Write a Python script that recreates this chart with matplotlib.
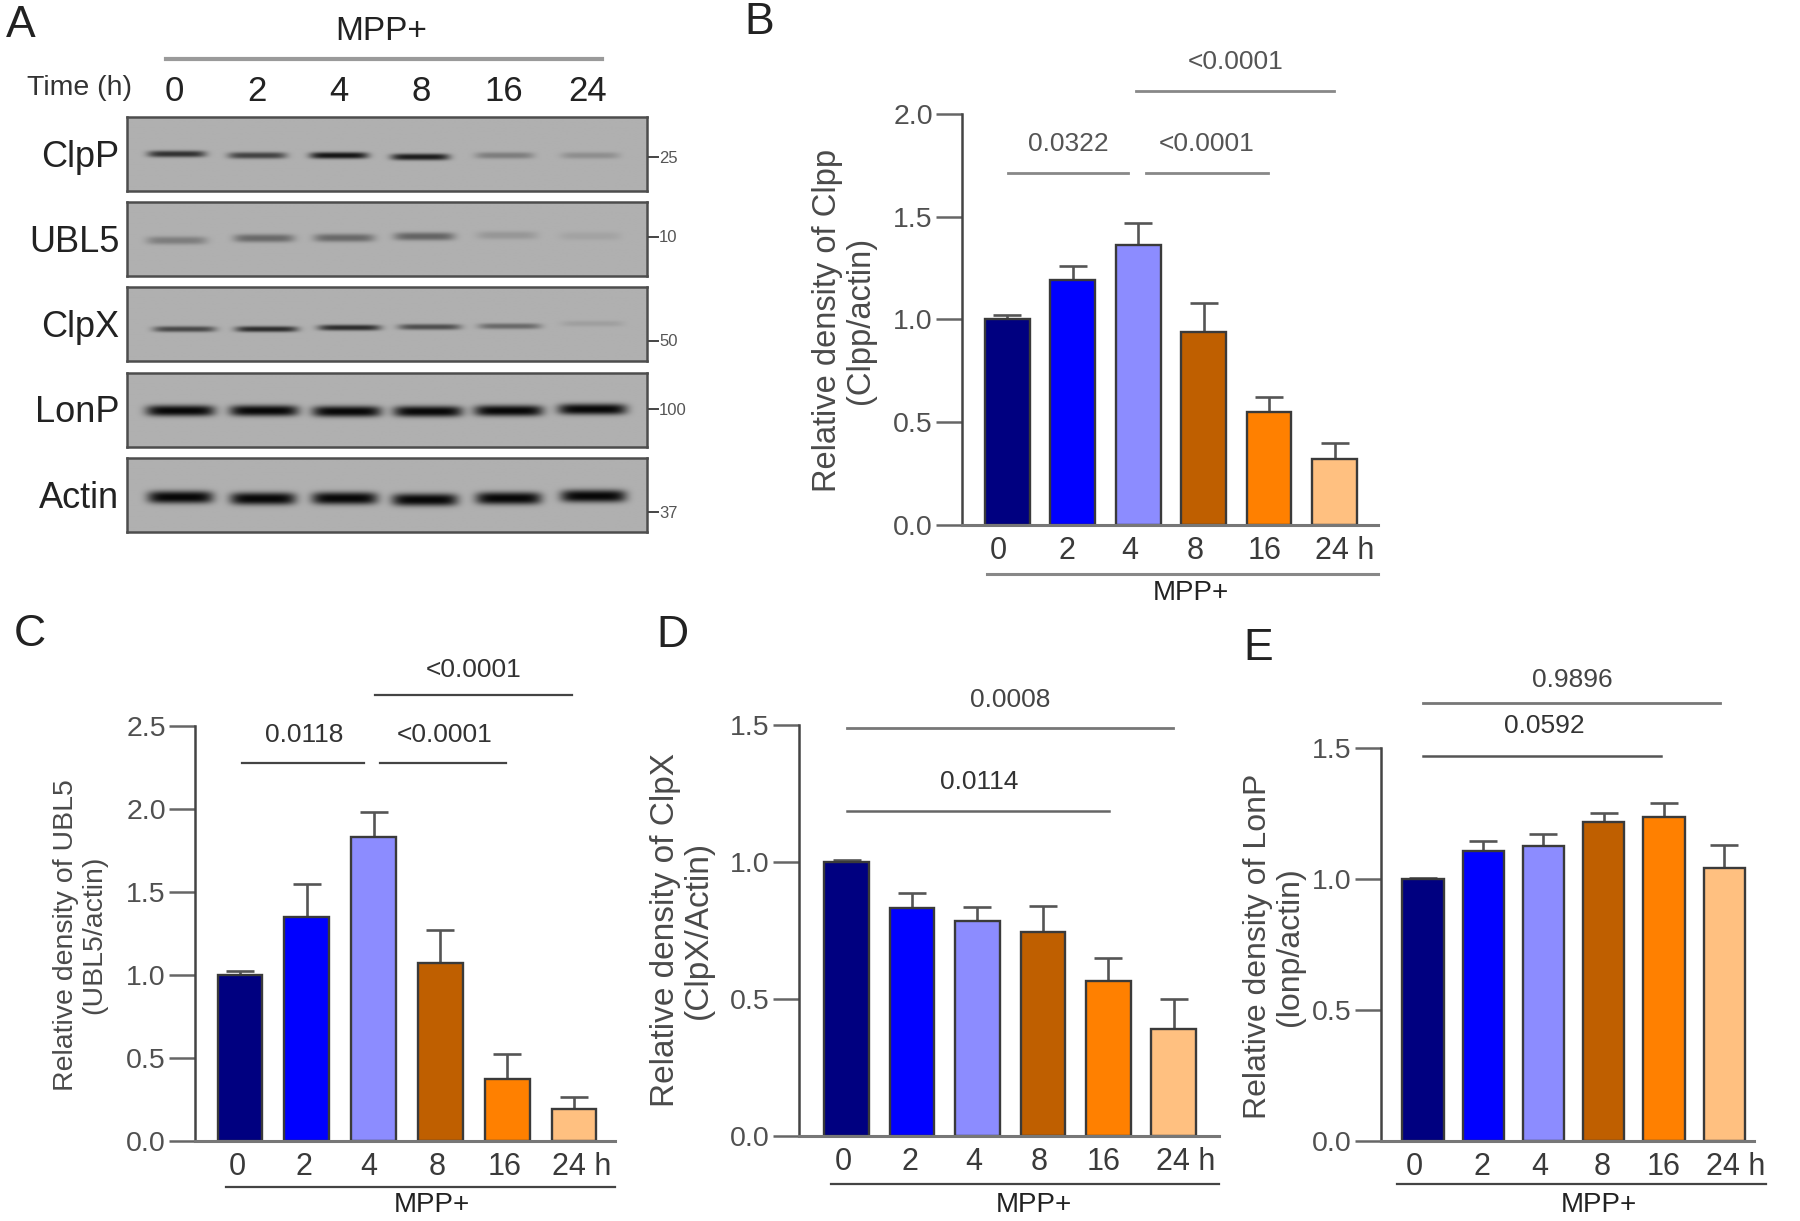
import numpy as np
import matplotlib
matplotlib.use('Agg')
import matplotlib.pyplot as plt
from matplotlib.lines import Line2D

plt.rcParams['font.family'] = ['Liberation Sans', 'DejaVu Sans']

# datos
times = ['0', '2', '4', '8', '16', '24 h']
colores = ['#000080', '#0000ff', '#8c8cff', '#bf5f00', '#ff8000', '#ffc080']

clpp = [1.00, 1.19, 1.36, 0.94, 0.55, 0.32]
clpp_err = [0.02, 0.07, 0.11, 0.14, 0.07, 0.08]
ubl5 = [1.00, 1.35, 1.83, 1.07, 0.37, 0.19]
ubl5_err = [0.02, 0.20, 0.15, 0.20, 0.15, 0.07]
clpx = [1.00, 0.83, 0.785, 0.745, 0.565, 0.39]
clpx_err = [0.005, 0.055, 0.05, 0.095, 0.085, 0.11]
lonp = [1.00, 1.105, 1.125, 1.215, 1.235, 1.04]
lonp_err = [0.002, 0.04, 0.045, 0.035, 0.055, 0.09]

# intensidad de cada banda del western blot
blot_names = ['ClpP', 'UBL5', 'ClpX', 'LonP', 'Actin']
blot_marks = ['25', '10', '50', '100', '37']
blot_int = [[0.75, 0.65, 0.92, 0.88, 0.30, 0.20],
            [0.30, 0.42, 0.42, 0.45, 0.15, 0.08],
            [0.62, 0.78, 0.78, 0.58, 0.42, 0.10],
            [1.00, 1.00, 1.00, 1.00, 1.00, 1.00],
            [1.00, 1.00, 1.00, 1.00, 1.00, 1.00]]

W, H = 1568.0, 1063.0  # todo se ubica en pixeles de esta escala
fig = plt.figure(figsize=(18, 12.21), dpi=100)


def fx(x):
    return x / W


def fy(y):
    return 1 - y / H


def texto(x, y, s, size=17, color='#333333', **kw):
    kw.setdefault('ha', 'center')
    kw.setdefault('va', 'center')
    fig.text(fx(x), fy(y), s, fontsize=size, color=color, **kw)


def linea(x0, x1, y, color='#666666', lw=1.6):
    fig.add_artist(Line2D([fx(x0), fx(x1)], [fy(y), fy(y)], color=color, lw=lw))


def panel(vals, errs, ylim, yticks, left, right, y0, ytop, c0, dx, barw, labx, ylab, ylab_x, ylab_y, ysize=23):
    ax = fig.add_axes([fx(left), fy(y0), fx(right - left), (y0 - ytop) / H])
    pos = np.arange(len(vals))
    ax.bar(pos, vals, width=barw / dx, color=colores, edgecolor='#3a3a3a', linewidth=1.7, zorder=2)
    ax.errorbar(pos, vals, yerr=[np.zeros(len(vals)), errs], fmt='none', ecolor='#555555',
                elinewidth=1.9, capsize=10, capthick=1.9, zorder=1)
    ax.set_xlim((left - c0) / dx, (right - c0) / dx)
    ax.set_ylim(*ylim)
    ax.set_yticks(yticks)
    ax.set_yticklabels(['%.1f' % t for t in yticks], fontsize=20.5, color='#505050')
    ax.set_xticks([(p - c0) / dx for p in labx])
    ax.set_xticklabels(times, fontsize=22, color='#3a3a3a')
    ax.tick_params(axis='x', length=0, pad=8)
    ax.tick_params(axis='y', length=19, width=1.8, color='#666666', pad=2)
    ax.spines['top'].set_visible(False)
    ax.spines['right'].set_visible(False)
    ax.spines['left'].set_linewidth(1.8)
    ax.spines['left'].set_color('#444444')
    ax.spines['bottom'].set_linewidth(2.2)
    ax.spines['bottom'].set_color('#777777')
    ax.patch.set_alpha(0)
    texto(ylab_x, ylab_y, ylab, size=ysize, color='#4a4a4a', rotation=90, linespacing=1.1)
    return ax


# Panel A
texto(18, 22, 'A', size=32, color='#222222')
texto(332, 27, 'MPP+', size=24, color='#222222')
linea(145, 524, 51, color='#9a9a9a', lw=3)
texto(69, 77, 'Time (h)', size=20.5)
for s, x in zip(['0', '2', '4', '8', '16', '24'], [152, 224, 295, 367, 439, 512]):
    texto(x, 80, s, size=25, color='#222222')

blot_top = [102, 176, 250, 325, 399]
blot_alto = 64
lane_x = [[0.095, 0.25, 0.407, 0.563, 0.725, 0.89],
          [0.095, 0.263, 0.417, 0.571, 0.73, 0.89],
          [0.11, 0.268, 0.427, 0.581, 0.735, 0.894],
          [0.102, 0.263, 0.422, 0.578, 0.733, 0.894],
          [0.102, 0.261, 0.418, 0.572, 0.733, 0.896]]
lane_y = [[0.50, 0.52, 0.52, 0.54, 0.52, 0.52],
          [0.52, 0.49, 0.485, 0.465, 0.45, 0.46],
          [0.57, 0.57, 0.55, 0.54, 0.53, 0.495],
          [0.51, 0.51, 0.52, 0.52, 0.51, 0.49],
          [0.53, 0.55, 0.545, 0.565, 0.545, 0.515]]
band_sig = [0.045, 0.055, 0.04, 0.075, 0.085]
band_ancho = [0.056, 0.058, 0.06, 0.066, 0.063]
nombre_y = [137, 211, 285, 359, 434]
marca_y = [138, 207, 297, 357, 447]

yy, xx = np.mgrid[0:1:160j, 0:1:520j]
for i, nombre in enumerate(blot_names):
    ax = fig.add_axes([fx(110.5), fy(blot_top[i] + blot_alto), fx(453), blot_alto / H])
    img = np.full(xx.shape, 0.69)
    for j in range(6):
        # banda oscura y difusa en cada carril
        perfil_x = np.exp(-(np.abs(xx - lane_x[i][j]) / band_ancho[i]) ** 6)
        perfil_y = np.exp(-(np.abs(yy - lane_y[i][j]) / band_sig[i]) ** 2.5)
        img -= 0.66 * blot_int[i][j] * perfil_x * perfil_y
    ax.imshow(img, cmap='gray', vmin=0, vmax=1, aspect='auto', extent=[0, 1, 1, 0])
    ax.set_xticks([])
    ax.set_yticks([])
    for sp in ax.spines.values():
        sp.set_linewidth(1.8)
        sp.set_color('#4d4d4d')
    texto(104, nombre_y[i], nombre, size=26, color='#222222', ha='right')
    linea(565, 573, marca_y[i] - 1 if i != 2 else marca_y[i], color='#444444', lw=1.4)
    texto(574, marca_y[i], blot_marks[i], size=12, color='#555555', ha='left')

# Panel B
texto(661, 20, 'B', size=32, color='#222222')
panel(clpp, clpp_err, (0, 2.0), [0, 0.5, 1.0, 1.5, 2.0], 838, 1200, 457, 99, 877.5, 57, 39,
      [870, 929, 984, 1041, 1102, 1171], 'Relative density of Clpp\n(Clpp/actin)', 735, 279, ysize=23.5)
linea(860, 1200, 500, color='#888888', lw=2.2)
texto(1037, 516, 'MPP+', size=20, color='#222222')
linea(878, 983, 151, color='#888888', lw=2)
linea(998, 1105, 151, color='#888888', lw=2)
linea(990, 1162, 79, color='#888888', lw=2)
texto(931, 125, '0.0322', size=19, color='#555555')
texto(1051, 125, '<0.0001', size=19, color='#555555')
texto(1076, 54, '<0.0001', size=19, color='#555555')

# Panel C
texto(26, 552, 'C', size=32, color='#222222')
panel(ubl5, ubl5_err, (0, 2.5), [0, 0.5, 1.0, 1.5, 2.0, 2.5], 170, 536, 993, 632, 209, 58.2, 39,
      [207, 265, 321, 381, 440, 507], 'Relative density of UBL5\n(UBL5/actin)', 70, 814, ysize=20.5)
linea(197, 536, 1033, color='#444444', lw=1.6)
texto(376, 1049, 'MPP+', size=20, color='#222222')
linea(211, 317, 664, color='#444444', lw=1.6)
linea(331, 441, 664, color='#444444', lw=1.6)
linea(327, 498, 605, color='#444444', lw=1.6)
texto(265, 640, '0.0118', size=19, color='#333333')
texto(387, 640, '<0.0001', size=19, color='#333333')
texto(413, 583, '<0.0001', size=19, color='#333333')

# Panel D
texto(586, 553, 'D', size=32, color='#222222')
panel(clpx, clpx_err, (0, 1.5), [0, 0.5, 1.0, 1.5], 696, 1062, 989, 631, 737.5, 57, 39,
      [735, 793, 848, 905, 961, 1033], 'Relative density of ClpX\n(ClpX/Actin)', 594, 810, ysize=24)
linea(724, 1062, 1031, color='#444444', lw=1.6)
texto(901, 1049, 'MPP+', size=20, color='#222222')
linea(738, 1022, 634, color='#777777', lw=2)
linea(738, 966, 706, color='#666666', lw=1.8)
texto(880, 609, '0.0008', size=19, color='#444444')
texto(853, 681, '0.0114', size=19, color='#333333')

# Panel E
texto(1096, 565, 'E', size=32, color='#222222')
panel(lonp, lonp_err, (0, 1.5), [0, 0.5, 1.0, 1.5], 1203, 1528, 993, 651, 1239.5, 52.5, 36,
      [1232, 1291, 1341, 1396, 1449, 1512], 'Relative density of LonP\n(lonp/actin)', 1110, 824, ysize=23)
linea(1217, 1538, 1031, color='#444444', lw=1.6)
texto(1393, 1049, 'MPP+', size=20, color='#222222')
linea(1240, 1498, 612, color='#777777', lw=2)
linea(1240, 1447, 658, color='#555555', lw=1.8)
texto(1370, 592, '0.9896', size=19, color='#444444')
texto(1345, 632, '0.0592', size=19, color='#333333')

fig.savefig('out.png', dpi=100)
